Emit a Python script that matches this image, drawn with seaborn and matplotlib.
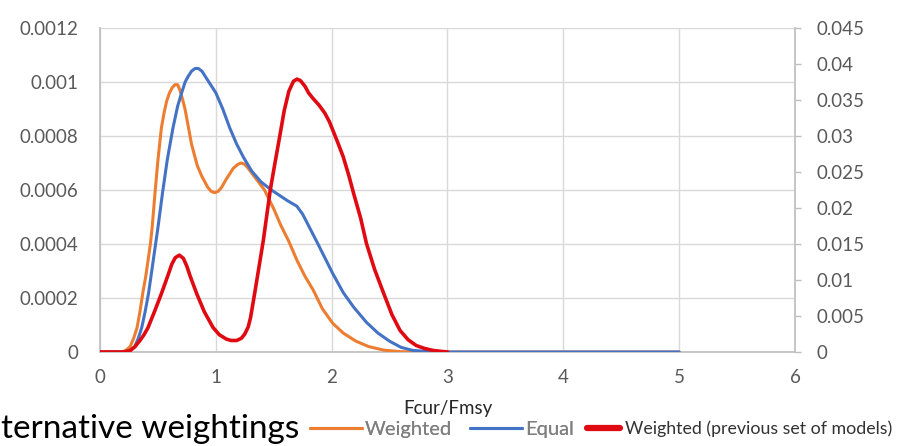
import matplotlib
matplotlib.use("Agg")
import matplotlib.pyplot as plt
from matplotlib.lines import Line2D
import seaborn as sns
import pandas as pd

# Density of Fcur/Fmsy under alternative model weightings
weighted_x = [0.0, 0.18, 0.22, 0.26, 0.29, 0.32, 0.345, 0.37, 0.395, 0.415, 0.435, 0.45,
              0.475, 0.50, 0.53, 0.555, 0.576, 0.60, 0.625, 0.648, 0.67, 0.69, 0.71,
              0.734, 0.76, 0.79, 0.815, 0.84, 0.88, 0.93, 0.96, 0.99, 1.02, 1.05, 1.09,
              1.12, 1.15, 1.19, 1.22, 1.25, 1.28, 1.35, 1.42, 1.50, 1.56, 1.63, 1.70,
              1.77, 1.84, 1.92, 2.01, 2.10, 2.21, 2.32, 2.45, 2.60, 2.75, 3.0, 4.0, 5.0]
weighted_y = [0.0, 0.0, 0.000005, 0.00002, 0.00005, 0.00009, 0.00015, 0.00022, 0.00028,
              0.00034, 0.00040, 0.00046, 0.00059, 0.00071, 0.00083, 0.00089, 0.00093,
              0.00096, 0.00098, 0.00099, 0.00099, 0.00097, 0.00094, 0.00090, 0.00084,
              0.00077, 0.00073, 0.00069, 0.00065, 0.00061, 0.000595, 0.00059, 0.000595,
              0.00061, 0.00064, 0.00066, 0.00068, 0.000695, 0.00070, 0.000695, 0.00068,
              0.00064, 0.00060, 0.00053, 0.00047, 0.00041, 0.00034, 0.00028, 0.00023,
              0.00016, 0.000106, 0.00007, 0.00004, 0.00002, 0.000007, 0.000001, 0.0,
              0.0, 0.0, 0.0]

equal_x = [0.0, 0.20, 0.26, 0.30, 0.33, 0.36, 0.39, 0.42, 0.46, 0.50, 0.54, 0.58, 0.63,
           0.67, 0.705, 0.735, 0.76, 0.79, 0.82, 0.85, 0.88, 0.91, 0.94, 1.00, 1.06,
           1.12, 1.18, 1.24, 1.31, 1.39, 1.48, 1.55, 1.62, 1.70, 1.75, 1.81, 1.87, 1.94,
           2.01, 2.10, 2.19, 2.30, 2.40, 2.50, 2.60, 2.70, 2.85, 3.0, 4.0, 5.0]
equal_y = [0.0, 0.0, 0.000005, 0.00002, 0.00005, 0.00009, 0.00015, 0.00022, 0.00034,
           0.00046, 0.00059, 0.00071, 0.00083, 0.00091, 0.00096, 0.00100, 0.00102,
           0.00104, 0.00105, 0.00105, 0.00104, 0.00102, 0.00100, 0.00096, 0.00090,
           0.00083, 0.00077, 0.00072, 0.00067, 0.00063, 0.00060, 0.00058, 0.00056,
           0.00054, 0.00051, 0.00046, 0.00041, 0.00035, 0.00029, 0.00022, 0.000166,
           0.00011, 0.00007, 0.00004, 0.000017, 0.000006, 0.000001, 0.0, 0.0, 0.0]

previous_x = [0.0, 0.20, 0.26, 0.30, 0.345, 0.38, 0.415, 0.475, 0.53, 0.59, 0.62, 0.65,
              0.685, 0.72, 0.75, 0.777, 0.835, 0.90, 0.976, 1.03, 1.09, 1.13, 1.18, 1.22,
              1.25, 1.28, 1.30, 1.34, 1.41, 1.47, 1.51, 1.55, 1.59, 1.63, 1.67, 1.70, 1.73,
              1.77, 1.80, 1.84, 1.89, 1.94, 1.98, 2.01, 2.05, 2.10, 2.15, 2.19, 2.25, 2.30,
              2.37, 2.45, 2.52, 2.59, 2.66, 2.73, 2.80, 2.88, 3.0]
previous_y = [0.0, 0.0, 0.0002, 0.0007, 0.0016, 0.0024, 0.0034, 0.0058, 0.0081, 0.0108,
              0.0122, 0.0131, 0.01345, 0.0130, 0.0119, 0.0106, 0.0081, 0.0056, 0.0034,
              0.0024, 0.0018, 0.0016, 0.0016, 0.0019, 0.0025, 0.0035, 0.0048, 0.0086,
              0.0155, 0.0225, 0.0262, 0.0298, 0.0335, 0.0362, 0.0376, 0.0379, 0.0377,
              0.0369, 0.0360, 0.0352, 0.0343, 0.0332, 0.0320, 0.0308, 0.0292, 0.0271,
              0.0244, 0.0220, 0.0186, 0.0151, 0.0115, 0.0081, 0.0052, 0.0030, 0.0017,
              0.0009, 0.0005, 0.0002, 0.0]

left_ticks = [0, 0.0002, 0.0004, 0.0006, 0.0008, 0.001, 0.0012]
left_labels = ["0", "0.0002", "0.0004", "0.0006", "0.0008", "0.001", "0.0012"]
right_ticks = [0, 0.005, 0.01, 0.015, 0.02, 0.025, 0.03, 0.035, 0.04, 0.045]
right_labels = ["0", "0.005", "0.01", "0.015", "0.02", "0.025", "0.03", "0.035", "0.04", "0.045"]
x_ticks = [0, 1, 2, 3, 4, 5, 6]

series_names = ["Weighted", "Equal", "Weighted (previous set of models)"]
colors = {"Weighted": "#ED7D31", "Equal": "#4472C4",
          "Weighted (previous set of models)": "#E00B12"}

sns.set_theme(style="white")
plt.rcParams["font.family"] = ["Lato", "DejaVu Sans"]

W, H = 904, 446
fig = plt.figure(figsize=(W / 100, H / 100), dpi=100)
L, R, T, B = 100, 795, 28, 352
ax = fig.add_axes([L / W, (H - B) / H, (R - L) / W, (B - T) / H])
ax2 = ax.twinx()

grid_c = "#D9D9D9"
axis_c = "#BFBFBF"
tick_c = "#595959"
fs = 13.5

df_w = pd.DataFrame({"x": weighted_x, "y": weighted_y})
df_e = pd.DataFrame({"x": equal_x, "y": equal_y})
df_p = pd.DataFrame({"x": previous_x, "y": previous_y})

line_kw = dict(sort=False, estimator=None, solid_joinstyle="round", solid_capstyle="round")
sns.lineplot(data=df_w, x="x", y="y", ax=ax, color=colors["Weighted"], lw=2.2,
             zorder=3, **line_kw)
sns.lineplot(data=df_e, x="x", y="y", ax=ax, color=colors["Equal"], lw=2.2,
             zorder=4, **line_kw)
sns.lineplot(data=df_p, x="x", y="y", ax=ax2,
             color=colors["Weighted (previous set of models)"], lw=2.6, zorder=5, **line_kw)

ax.set_xlim(0, 6)
ax.set_ylim(0, 0.0012)
ax2.set_ylim(0, 0.045)

ax.set_xticks(x_ticks)
ax.set_xticklabels([str(t) for t in x_ticks])
ax.set_yticks(left_ticks)
ax.set_yticklabels(left_labels)
ax2.set_yticks(right_ticks)
ax2.set_yticklabels(right_labels)

ax.grid(True, color=grid_c, lw=1.0)
ax.set_axisbelow(True)
ax2.grid(False)

for a in (ax, ax2):
    for s in a.spines.values():
        s.set_visible(False)
ax.spines["left"].set_visible(True)
ax.spines["left"].set_color(axis_c)
ax.spines["bottom"].set_visible(True)
ax.spines["bottom"].set_color(axis_c)
ax2.spines["right"].set_visible(True)
ax2.spines["right"].set_color(axis_c)

ax.tick_params(axis="y", length=0, pad=15.5, labelsize=fs, labelcolor=tick_c)
ax.tick_params(axis="x", length=0, pad=12.5, labelsize=fs, labelcolor=tick_c)
ax2.tick_params(axis="y", right=True, length=4.5, width=1, color=axis_c, pad=11,
                labelsize=fs, labelcolor=tick_c)

ax.set_xlabel("Fcur/Fmsy", fontsize=fs, color="#262626", labelpad=10)
ax.set_ylabel("")
ax2.set_ylabel("")

legend_y = (H - 429) / H
fig.text(1 / W, legend_y, "ternative weightings", fontsize=24, color="black",
         ha="left", va="center")

# Legend row: orange/blue entries share one box, the thicker red entry has its own
h1 = [Line2D([0], [0], color=colors[n], lw=2.2) for n in series_names[:2]]
leg1 = fig.legend(h1, series_names[:2], loc="center left",
                  bbox_to_anchor=(310 / W, legend_y), ncol=2, frameon=False,
                  handlelength=2.6, handletextpad=0.12, columnspacing=0.9,
                  fontsize=14.5, borderaxespad=0, borderpad=0)
for txt in leg1.get_texts():
    txt.set_color("#7F7F7F")

h2 = [Line2D([0], [0], color=colors[series_names[2]], lw=4.5)]
leg2 = fig.legend(h2, series_names[2:], loc="center left",
                  bbox_to_anchor=(587 / W, legend_y), frameon=False,
                  handlelength=1.85, handletextpad=0.3,
                  fontsize=12.8, borderaxespad=0, borderpad=0)
for txt in leg2.get_texts():
    txt.set_color("#333333")
fig.add_artist(leg1)

fig.savefig("out.png", dpi=100)
